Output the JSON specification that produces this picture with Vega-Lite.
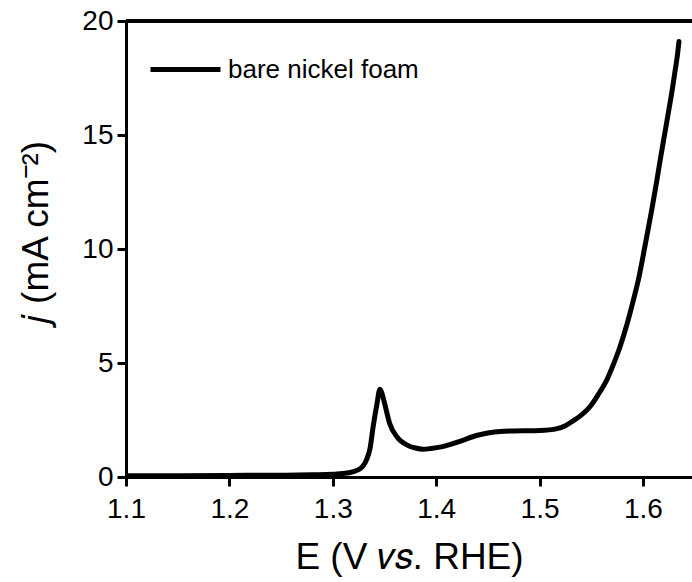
{
  "$schema": "https://vega.github.io/schema/vega-lite/v6.json",
  "width": 566,
  "height": 456,
  "autosize": {"type": "none"},
  "padding": {"left": 126, "top": 21, "right": 0, "bottom": 105},
  "background": "white",
  "config": {
    "font": "Liberation Sans",
    "view": {"stroke": null},
    "axis": {
      "domainColor": "black",
      "domainWidth": 3,
      "tickColor": "black",
      "tickWidth": 3,
      "tickSize": 9,
      "grid": false,
      "labelFlush": false,
      "labelFont": "Liberation Sans",
      "labelFontSize": 28,
      "labelColor": "black",
      "titleFont": "Liberation Sans",
      "titleFontSize": 37,
      "titleFontWeight": "normal",
      "titleColor": "black"
    }
  },
  "data": {
    "values": [
      {"E": 1.100, "j": 0.05, "sample": "bare nickel foam"},
      {"E": 1.150, "j": 0.06, "sample": "bare nickel foam"},
      {"E": 1.200, "j": 0.07, "sample": "bare nickel foam"},
      {"E": 1.250, "j": 0.08, "sample": "bare nickel foam"},
      {"E": 1.280, "j": 0.10, "sample": "bare nickel foam"},
      {"E": 1.300, "j": 0.12, "sample": "bare nickel foam"},
      {"E": 1.310, "j": 0.15, "sample": "bare nickel foam"},
      {"E": 1.320, "j": 0.24, "sample": "bare nickel foam"},
      {"E": 1.326, "j": 0.35, "sample": "bare nickel foam"},
      {"E": 1.329, "j": 0.47, "sample": "bare nickel foam"},
      {"E": 1.333, "j": 0.80, "sample": "bare nickel foam"},
      {"E": 1.336, "j": 1.25, "sample": "bare nickel foam"},
      {"E": 1.339, "j": 2.20, "sample": "bare nickel foam"},
      {"E": 1.3427, "j": 3.20, "sample": "bare nickel foam"},
      {"E": 1.3456, "j": 3.85, "sample": "bare nickel foam"},
      {"E": 1.348, "j": 3.60, "sample": "bare nickel foam"},
      {"E": 1.350, "j": 3.25, "sample": "bare nickel foam"},
      {"E": 1.355, "j": 2.35, "sample": "bare nickel foam"},
      {"E": 1.362, "j": 1.76, "sample": "bare nickel foam"},
      {"E": 1.372, "j": 1.40, "sample": "bare nickel foam"},
      {"E": 1.380, "j": 1.27, "sample": "bare nickel foam"},
      {"E": 1.387, "j": 1.22, "sample": "bare nickel foam"},
      {"E": 1.395, "j": 1.25, "sample": "bare nickel foam"},
      {"E": 1.405, "j": 1.32, "sample": "bare nickel foam"},
      {"E": 1.413, "j": 1.42, "sample": "bare nickel foam"},
      {"E": 1.425, "j": 1.60, "sample": "bare nickel foam"},
      {"E": 1.439, "j": 1.82, "sample": "bare nickel foam"},
      {"E": 1.450, "j": 1.93, "sample": "bare nickel foam"},
      {"E": 1.462, "j": 2.00, "sample": "bare nickel foam"},
      {"E": 1.475, "j": 2.02, "sample": "bare nickel foam"},
      {"E": 1.4936, "j": 2.03, "sample": "bare nickel foam"},
      {"E": 1.505, "j": 2.05, "sample": "bare nickel foam"},
      {"E": 1.515, "j": 2.10, "sample": "bare nickel foam"},
      {"E": 1.525, "j": 2.25, "sample": "bare nickel foam"},
      {"E": 1.532, "j": 2.45, "sample": "bare nickel foam"},
      {"E": 1.540, "j": 2.70, "sample": "bare nickel foam"},
      {"E": 1.5487, "j": 3.08, "sample": "bare nickel foam"},
      {"E": 1.5565, "j": 3.60, "sample": "bare nickel foam"},
      {"E": 1.5649, "j": 4.25, "sample": "bare nickel foam"},
      {"E": 1.5715, "j": 4.95, "sample": "bare nickel foam"},
      {"E": 1.5778, "j": 5.71, "sample": "bare nickel foam"},
      {"E": 1.5826, "j": 6.40, "sample": "bare nickel foam"},
      {"E": 1.5874, "j": 7.18, "sample": "bare nickel foam"},
      {"E": 1.5915, "j": 7.90, "sample": "bare nickel foam"},
      {"E": 1.5955, "j": 8.64, "sample": "bare nickel foam"},
      {"E": 1.6020, "j": 10.15, "sample": "bare nickel foam"},
      {"E": 1.6084, "j": 11.70, "sample": "bare nickel foam"},
      {"E": 1.6132, "j": 12.95, "sample": "bare nickel foam"},
      {"E": 1.6170, "j": 14.00, "sample": "bare nickel foam"},
      {"E": 1.6210, "j": 15.05, "sample": "bare nickel foam"},
      {"E": 1.6250, "j": 16.10, "sample": "bare nickel foam"},
      {"E": 1.6280, "j": 16.90, "sample": "bare nickel foam"},
      {"E": 1.6310, "j": 17.80, "sample": "bare nickel foam"},
      {"E": 1.6330, "j": 18.40, "sample": "bare nickel foam"},
      {"E": 1.6348, "j": 19.10, "sample": "bare nickel foam"}
    ]
  },
  "layer": [
    {
      "mark": {"type": "rule", "color": "black", "strokeWidth": 3},
      "encoding": {"y": {"datum": 20, "type": "quantitative"}}
    },
    {
      "mark": {"type": "line", "strokeWidth": 5, "strokeCap": "round", "strokeJoin": "round", "interpolate": "monotone", "clip": true},
      "encoding": {
        "x": {
          "field": "E",
          "type": "quantitative",
          "scale": {"domain": [1.1, 1.6474], "nice": false, "zero": false},
          "axis": {
            "values": [1.1, 1.2, 1.3, 1.4, 1.5, 1.6],
            "format": ".1f",
            "labelPadding": 9,
            "title": "E (V 𝑣𝑠. RHE)",
            "titlePadding": 16
          }
        },
        "y": {
          "field": "j",
          "type": "quantitative",
          "scale": {"domain": [0, 20], "nice": false},
          "axis": {
            "values": [0, 5, 10, 15, 20],
            "labelPadding": 4,
            "title": "𝑗 (mA cm⁻²)",
            "titleY": 212,
            "titlePadding": 26
          }
        },
        "color": {
          "field": "sample",
          "type": "nominal",
          "scale": {"range": ["black"]},
          "legend": {
            "title": null,
            "orient": "none",
            "legendX": 22,
            "legendY": 11,
            "symbolType": "stroke",
            "symbolSize": 4900,
            "symbolStrokeWidth": 5,
            "labelFontSize": 26,
            "labelFont": "Liberation Sans",
            "labelColor": "black",
            "labelOffset": 5,
            "labelLimit": 0
          }
        }
      }
    }
  ]
}
